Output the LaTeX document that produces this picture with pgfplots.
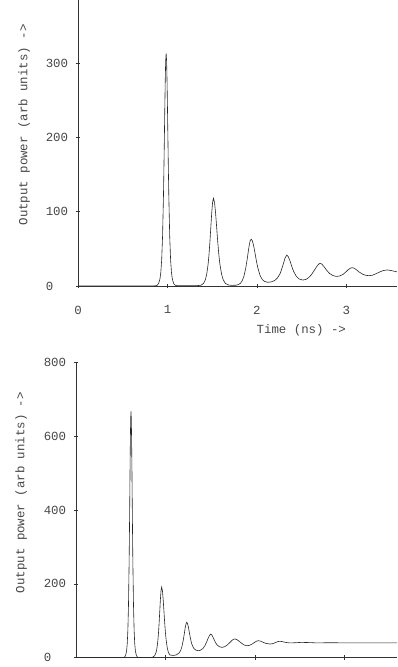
\documentclass[border=0pt]{standalone}
\usepackage{fontspec}
\setmonofont{Liberation Mono}
\usepackage{pgfplots}
\pgfplotsset{compat=1.18}
\begin{document}
\begin{tikzpicture}[x=1pt,y=1pt]
\path[use as bounding box] (0,0) rectangle (397,667);
\pgfplotsset{
  every axis/.append style={
    scale only axis,
    axis x line*=bottom, axis y line*=left,
    axis line style={black!80, line width=0.6pt},
    tick style={black!80, line width=0.6pt},
    tick align=center, major tick length=4.5pt,
    /pgf/number format/assume math mode=true,
    tick label style={font=\ttfamily\fontsize{12.4}{14}\selectfont, text=black!72},
    label style={font=\ttfamily\fontsize{12.4}{14}\selectfont, text=black!72},
    yticklabel style={anchor=west, xshift=-33.5pt},
    xticklabel style={yshift=-14pt},
    clip=true,
  },
}
% ---------------- top panel ----------------
\begin{axis}[
  at={(78pt,381pt)}, anchor=south west,
  width=319pt, height=286pt,
  xmin=0, xmax=3.565, ymin=0, ymax=385,
  xtick={0,1,2,3}, ytick={0,100,200,300},
  xlabel={Time (ns) ->},
  xlabel style={at={(rel axis cs:0.70,0)}, anchor=center, yshift=-44pt},
  ylabel={Output power (arb units) ->},
  ylabel style={at={(rel axis cs:-0.169,0.563)}, anchor=center, rotate=0},
]
\addplot[black!85, line width=0.6pt] coordinates {
(0,0) (0.80,0) (0.865,0.3) (0.885,1.1) (0.90,3.1) (0.915,8.9) (0.925,17.7) (0.935,34.8) (0.945,66.8) (0.955,120.5) (0.96,156.5) (0.965,197) (0.97,239) (0.975,277) (0.98,303.5) (0.985,313) (0.99,303.5) (0.995,277) (1.0,239) (1.005,197) (1.01,156.5) (1.015,120.5) (1.025,66.8) (1.035,34.8) (1.045,17.7) (1.055,8.9) (1.07,3.1) (1.085,1.1) (1.105,0.4) (1.2,0.3) (1.33,0.5)
(1.374,1.0) (1.404,3.6) (1.424,8.6) (1.439,16.2) (1.454,29.2) (1.464,42.2) (1.474,59) (1.484,78.4) (1.494,97.7) (1.504,112.5) (1.514,118) (1.526,112.5) (1.538,97.7) (1.55,78.4) (1.562,59) (1.574,42.2) (1.586,29.2) (1.604,16.2) (1.622,8.6) (1.646,3.6) (1.68,1.4) (1.72,0.9) (1.76,1.0) (1.79,1.8)
(1.815,3.6) (1.835,7) (1.855,13.5) (1.875,24.3) (1.885,31.5) (1.895,39.6) (1.905,48.2) (1.915,55.8) (1.925,61.1) (1.935,63) (1.9475,61.1) (1.96,55.8) (1.9725,48.2) (1.985,39.6) (1.9975,31.5) (2.01,24.3) (2.035,14) (2.06,8.6) (2.085,6.2) (2.12,5)
(2.16,5.5) (2.2,7.5) (2.23,11) (2.26,17) (2.28,24) (2.3,32) (2.315,38) (2.333,41.7) (2.35,39.5) (2.37,33.5) (2.39,26) (2.41,19.5) (2.44,13) (2.47,9.5) (2.512,8)
(2.55,9) (2.58,11.5) (2.61,15.5) (2.64,21) (2.67,26.5) (2.69,29.5) (2.706,30.5) (2.725,29.5) (2.75,26) (2.78,21) (2.81,17) (2.85,14) (2.885,12.9)
(2.92,13.3) (2.96,15.5) (2.99,18.5) (3.02,22) (3.045,24) (3.063,24.7) (3.085,24) (3.11,22) (3.14,19) (3.18,16) (3.215,14.4) (3.25,13.9)
(3.29,14.5) (3.33,16.5) (3.37,18.8) (3.41,20.7) (3.44,21.4) (3.46,21.5) (3.49,21) (3.52,20.2) (3.565,19)
};
\end{axis}
% ---------------- bottom panel ----------------
\begin{axis}[
  at={(76pt,9.3pt)}, anchor=south west,
  width=321pt, height=295.4pt,
  xmin=0, xmax=3.59, ymin=0, ymax=800,
  xtick={1,2,3}, xticklabels={},
  ytick={0,200,400,600,800},
  ylabel={Output power (arb units) ->},
  ylabel style={at={(rel axis cs:-0.171,0.559)}, anchor=center, rotate=0},
]
\addplot[black!85, line width=0.6pt] coordinates {
(0,0) (0.5,0) (0.53,0.5) (0.545,2.3) (0.5555,6.6) (0.566,18.9) (0.573,37.6) (0.58,74) (0.587,142.4) (0.594,256.8) (0.5975,333.5) (0.601,419.5) (0.6045,510) (0.608,590) (0.6115,646.7) (0.615,667) (0.6185,646.7) (0.622,590) (0.6255,510) (0.629,419.5) (0.6325,333.5) (0.636,256.8) (0.643,142.4) (0.65,74) (0.657,37.6) (0.664,18.9) (0.6745,6.6) (0.685,2.3) (0.70,0.5) (0.78,0.2) (0.84,0.5)
(0.86,1.6) (0.881,5.9) (0.895,13.9) (0.9055,26.2) (0.916,47.4) (0.923,68.4) (0.93,95.5) (0.937,126.8) (0.944,158) (0.951,182) (0.958,191) (0.9664,182) (0.9748,158) (0.9832,126.8) (0.9916,95.5) (1.0,68.4) (1.0084,47.4) (1.021,26.2) (1.0336,13.9) (1.05,7.5) (1.085,6)
(1.12,7.5) (1.15,12) (1.17,19) (1.185,30) (1.2,48) (1.212,66) (1.222,82) (1.231,92) (1.238,96) (1.246,93) (1.256,84) (1.268,68) (1.28,52) (1.295,37) (1.315,26) (1.34,20.5) (1.368,19)
(1.39,20) (1.42,25) (1.445,34) (1.465,45) (1.48,54) (1.495,61) (1.507,64) (1.52,61.5) (1.535,54) (1.55,46) (1.56,41) (1.58,34) (1.605,29.5) (1.63,28)
(1.66,29.5) (1.69,34) (1.72,41) (1.745,47) (1.762,50) (1.778,50.7) (1.795,49.5) (1.82,45.5) (1.85,39.5) (1.88,34.5) (1.909,32.5)
(1.94,33.5) (1.97,37) (2.0,42) (2.02,45) (2.04,46) (2.065,45) (2.09,42) (2.12,39) (2.17,37)
(2.2,38) (2.235,41.5) (2.26,43.8) (2.28,44.4) (2.31,43.5) (2.34,41.5) (2.39,40) (2.45,40.5) (2.52,41.5) (2.6,41) (2.7,40) (2.8,40.5) (2.9,40.5) (3.0,40) (3.2,40) (3.4,40) (3.59,40)
};
\end{axis}
\end{tikzpicture}
\end{document}
